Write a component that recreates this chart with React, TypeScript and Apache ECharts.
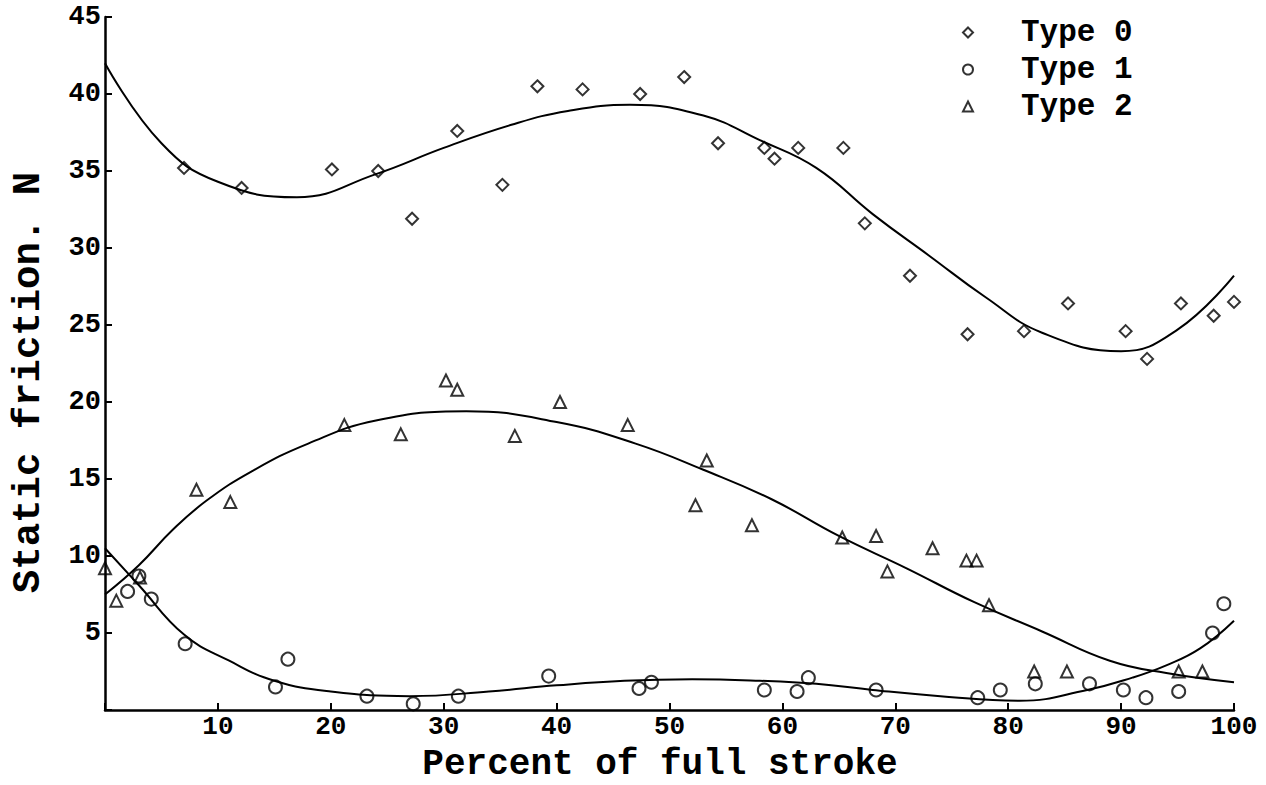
import React, { useEffect, useRef } from "react";
import * as echarts from "echarts";

// ---- Data ----
const seriesNames = ["Type 0", "Type 1", "Type 2"];

// Type 0 (diamonds)
const type0X = [7.0, 12.1, 20.1, 24.2, 27.2, 31.2, 35.2, 38.3, 42.3, 47.4, 51.3, 54.3, 58.4, 59.3, 61.4, 65.4, 67.3, 71.3, 76.4, 81.4, 85.3, 90.4, 92.3, 95.3, 98.2, 100.0];
const type0Y = [35.2, 33.9, 35.1, 35.0, 31.9, 37.6, 34.1, 40.5, 40.3, 40.0, 41.1, 36.8, 36.5, 35.8, 36.5, 36.5, 31.6, 28.2, 24.4, 24.6, 26.4, 24.6, 22.8, 26.4, 25.6, 26.5];

// Type 1 (circles)
const type1X = [2.0, 3.0, 4.1, 7.1, 15.1, 16.2, 23.2, 27.3, 31.3, 39.3, 47.3, 48.4, 58.4, 61.3, 62.3, 68.3, 77.3, 79.3, 82.4, 87.2, 90.2, 92.2, 95.1, 98.1, 99.1];
const type1Y = [7.7, 8.7, 7.2, 4.3, 1.5, 3.3, 0.9, 0.4, 0.9, 2.2, 1.4, 1.8, 1.3, 1.2, 2.1, 1.3, 0.8, 1.3, 1.7, 1.7, 1.3, 0.8, 1.2, 5.0, 6.9];

// Type 2 (triangles)
const type2X = [0.0, 1.0, 3.1, 8.1, 11.1, 21.2, 26.2, 30.2, 31.2, 36.3, 40.3, 46.3, 52.3, 53.3, 57.3, 65.3, 68.3, 69.3, 73.3, 76.3, 77.2, 78.3, 82.3, 85.2, 95.1, 97.2];
const type2Y = [9.2, 7.1, 8.6, 14.3, 13.5, 18.5, 17.9, 21.4, 20.8, 17.8, 20.0, 18.5, 13.3, 16.2, 12.0, 11.2, 11.3, 9.0, 10.5, 9.7, 9.7, 6.8, 2.5, 2.5, 2.5, 2.5];

// Fitted curves
const fit0X = [0, 5, 10, 17, 24, 30, 36, 41, 46.5, 53, 58, 63, 68, 73, 78, 83, 90, 95, 100];
const fit0Y = [42.0, 36.8, 34.3, 33.3, 34.8, 36.5, 38.0, 38.9, 39.3, 38.6, 37.0, 35.2, 32.2, 29.5, 26.8, 24.5, 23.3, 24.7, 28.2];

const fit1X = [0, 3, 7, 11, 15, 20, 27, 34, 40, 46, 52, 58, 63, 68, 74, 81, 87, 91, 94, 97, 100];
const fit1Y = [10.5, 8.1, 4.9, 3.2, 1.9, 1.2, 0.9, 1.2, 1.6, 1.9, 2.0, 1.9, 1.7, 1.3, 0.9, 0.6, 1.3, 2.1, 2.9, 4.0, 5.8];

const fit2X = [0, 3, 6, 9, 13, 18, 24, 32, 40, 47, 53, 59, 65, 71, 77, 83, 89, 94, 100];
const fit2Y = [7.5, 9.4, 11.7, 13.6, 15.5, 17.3, 18.8, 19.4, 18.7, 17.3, 15.6, 13.7, 11.3, 9.2, 7.0, 5.1, 3.2, 2.4, 1.8];

const xAxisTitle = "Percent of full stroke";
const yAxisTitle = "Static friction. N";

const pairs = (xs: number[], ys: number[]) => xs.map((x, i) => [x, ys[i]]);

const FONT = "'Liberation Mono', 'DejaVu Sans Mono', monospace";

export default function App() {
  const ref = useRef<HTMLDivElement>(null);

  useEffect(() => {
    if (!ref.current) return;
    const chart = echarts.init(ref.current, null, { renderer: "svg" });

    const hollow = {
      color: "rgba(255,255,255,0)",
      borderColor: "#000",
      borderWidth: 2,
    };
    const curve = (xs: number[], ys: number[]) => ({
      type: "line",
      data: pairs(xs, ys),
      smooth: 0.45,
      showSymbol: false,
      symbol: "none",
      silent: true,
      z: 2,
      lineStyle: { color: "#000", width: 2 },
    });

    chart.setOption({
      animation: false,
      backgroundColor: "#fff",
      grid: {
        left: 105,
        right: 32,
        top: 17,
        bottom: 75,
        containLabel: false,
        outerBoundsMode: "none",
      },
      legend: {
        data: seriesNames,
        orient: "vertical",
        left: 962,
        top: 14,
        padding: 0,
        itemGap: 0,
        itemWidth: 10,
        itemHeight: 10,
        selectedMode: false,
        textStyle: {
          fontFamily: FONT,
          fontSize: 31,
          fontWeight: "bold",
          color: "#000",
          lineHeight: 37,
          padding: [0, 0, 0, 43],
        },
      },
      xAxis: {
        type: "value",
        min: 0,
        max: 100,
        interval: 10,
        name: xAxisTitle,
        nameLocation: "middle",
        nameMoveOverlap: false,
        nameGap: 39,
        nameTextStyle: {
          fontFamily: FONT,
          fontSize: 36,
          fontWeight: "bold",
          color: "#000",
          lineHeight: 30,
          padding: [0, 19, 0, 0],
        },
        splitLine: { show: false },
        axisLine: { lineStyle: { color: "#000", width: 2.5 } },
        axisTick: { inside: true, length: 7, lineStyle: { color: "#000", width: 2 } },
        axisLabel: {
          formatter: (v: number) => (v === 0 ? "" : String(v)),
          fontFamily: FONT,
          fontSize: 26,
          fontWeight: "bold",
          color: "#000",
          lineHeight: 24,
          margin: 5,
        },
      },
      yAxis: {
        type: "value",
        min: 0,
        max: 45,
        interval: 5,
        name: yAxisTitle,
        nameLocation: "middle",
        nameGap: 57,
        nameTextStyle: {
          fontFamily: FONT,
          fontSize: 39,
          fontWeight: "bold",
          color: "#000",
          padding: [0, 38, 0, 0],
        },
        splitLine: { show: false },
        axisLine: { show: true, lineStyle: { color: "#000", width: 2.5 } },
        axisTick: { show: true, inside: true, length: 7, lineStyle: { color: "#000", width: 2 } },
        axisLabel: {
          formatter: (v: number) => (v === 0 ? "" : String(v)),
          fontFamily: FONT,
          fontSize: 27,
          fontWeight: "bold",
          color: "#000",
          margin: 4,
        },
      },
      series: [
        curve(fit0X, fit0Y),
        curve(fit1X, fit1Y),
        curve(fit2X, fit2Y),
        {
          name: seriesNames[0],
          type: "scatter",
          symbol: "diamond",
          symbolSize: 12,
          z: 3,
          itemStyle: hollow,
          data: pairs(type0X, type0Y),
        },
        {
          name: seriesNames[1],
          type: "scatter",
          symbol: "circle",
          symbolSize: 13,
          z: 3,
          itemStyle: hollow,
          data: pairs(type1X, type1Y),
        },
        {
          name: seriesNames[2],
          type: "scatter",
          symbol: "triangle",
          symbolSize: 12,
          z: 3,
          itemStyle: hollow,
          data: pairs(type2X, type2Y),
        },
      ],
    });

    return () => chart.dispose();
  }, []);

  return (
    <div
      ref={ref}
      style={{ position: "fixed", left: 0, top: 0, width: 1266, height: 785, background: "#fff" }}
    />
  );
}
